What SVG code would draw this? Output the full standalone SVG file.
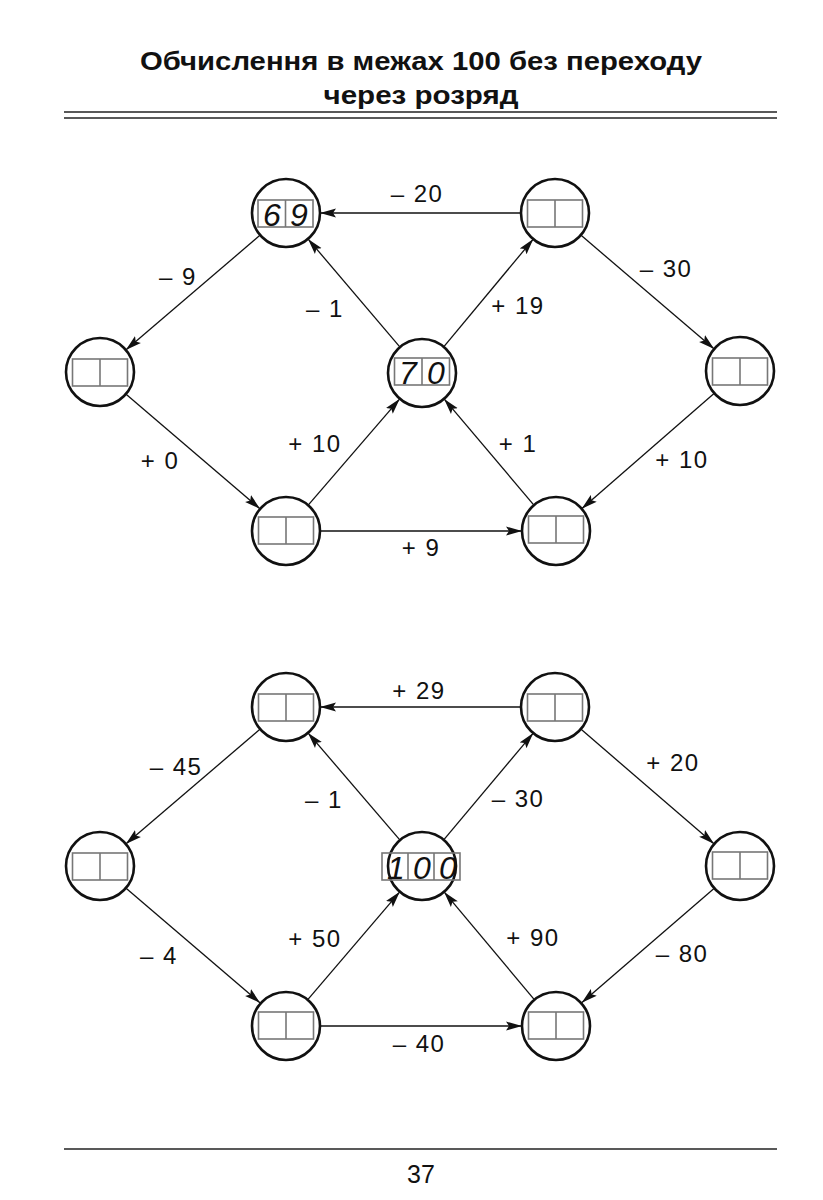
<svg xmlns="http://www.w3.org/2000/svg" width="823" height="1200" viewBox="0 0 823 1200">
<style>
.t{font-family:"Liberation Sans",Arial,sans-serif;font-weight:bold;font-size:25px;fill:#111;text-anchor:middle}
.lb{font-family:"Liberation Sans",Arial,sans-serif;font-size:24px;letter-spacing:1.5px;fill:#111;text-anchor:middle}
.pn{font-family:"Liberation Sans",Arial,sans-serif;font-size:25px;fill:#111;text-anchor:middle}
.hw{font-family:"Liberation Sans",Arial,sans-serif;font-style:italic;font-size:32px;fill:#111;text-anchor:middle}
.c{fill:#fff;stroke:#111;stroke-width:2.6}
.b{fill:none;stroke:#777;stroke-width:1.6}
.e{stroke:#111;stroke-width:1.3;fill:none;marker-end:url(#ah)}
.r{stroke:#222;stroke-width:1.4}
</style>
<defs>
<marker id="ah" markerUnits="userSpaceOnUse" viewBox="0 0 16 10" markerWidth="16" markerHeight="10" refX="16" refY="5" orient="auto">
<path d="M0,0.5 L16,5 L0,9.5 L3,5 z" fill="#111"/>
</marker>
</defs>
<rect width="823" height="1200" fill="#fff"/>
<g id="title">
<text class="t" x="421" y="70" textLength="562" lengthAdjust="spacingAndGlyphs">Обчислення в межах 100 без переходу</text>
<text class="t" x="421" y="104" textLength="195" lengthAdjust="spacingAndGlyphs">через розряд</text>
<line class="r" x1="64" y1="112" x2="777" y2="112"/>
<line class="r" x1="64" y1="118" x2="777" y2="118"/>
</g>
<g id="connectors">
<line class="e" x1="521" y1="213" x2="320" y2="213"/>
<line class="e" x1="260.2" y1="235.1" x2="125.8" y2="349.9"/>
<line class="e" x1="400" y1="347.1" x2="308" y2="238.9"/>
<line class="e" x1="443.7" y1="346.9" x2="533.3" y2="239.1"/>
<line class="e" x1="580.8" y1="235.1" x2="714.2" y2="348.9"/>
<line class="e" x1="125.8" y1="394.1" x2="260.2" y2="508.9"/>
<line class="e" x1="308.2" y1="505.2" x2="399.8" y2="398.8"/>
<line class="e" x1="533.9" y1="505.1" x2="444.1" y2="398.9"/>
<line class="e" x1="714.3" y1="393.2" x2="581.7" y2="508.8"/>
<line class="e" x1="320" y1="531" x2="522" y2="531"/>

<line class="e" x1="521" y1="707" x2="320" y2="707"/>
<line class="e" x1="260.2" y1="729.1" x2="125.8" y2="843.9"/>
<line class="e" x1="400" y1="840.1" x2="308" y2="732.9"/>
<line class="e" x1="443.7" y1="839.9" x2="533.3" y2="733.1"/>
<line class="e" x1="580.8" y1="729.1" x2="714.2" y2="843.9"/>
<line class="e" x1="125.8" y1="888.1" x2="260.2" y2="1002.9"/>
<line class="e" x1="308.2" y1="999.2" x2="399.8" y2="891.8"/>
<line class="e" x1="533.9" y1="999.1" x2="444.1" y2="891.9"/>
<line class="e" x1="714.3" y1="888.2" x2="581.7" y2="1002.8"/>
<line class="e" x1="320" y1="1026" x2="522" y2="1026"/>
</g>
<g id="labels">
<text class="lb" x="417" y="202">– 20</text>
<text class="lb" x="178" y="285">– 9</text>
<text class="lb" x="325" y="317">– 1</text>
<text class="lb" x="518" y="314">+ 19</text>
<text class="lb" x="666" y="277">– 30</text>
<text class="lb" x="160" y="469">+ 0</text>
<text class="lb" x="315" y="452">+ 10</text>
<text class="lb" x="518" y="452">+ 1</text>
<text class="lb" x="682" y="468">+ 10</text>
<text class="lb" x="421" y="556">+ 9</text>

<text class="lb" x="419" y="699">+ 29</text>
<text class="lb" x="176" y="775">– 45</text>
<text class="lb" x="324" y="808">– 1</text>
<text class="lb" x="518" y="807">– 30</text>
<text class="lb" x="673" y="771">+ 20</text>
<text class="lb" x="159" y="964">– 4</text>
<text class="lb" x="315" y="947">+ 50</text>
<text class="lb" x="533" y="946">+ 90</text>
<text class="lb" x="682" y="962">– 80</text>
<text class="lb" x="419" y="1052">– 40</text>
</g>
<!-- top diagram nodes -->
<g id="t-tl"><circle class="c" cx="286" cy="213" r="34"/><rect class="b" x="258" y="200" width="55" height="27"/><line class="b" x1="285.5" y1="200" x2="285.5" y2="227"/><text class="hw" x="272" y="226">6</text><text class="hw" x="299" y="226">9</text></g>
<g id="t-tr"><circle class="c" cx="555" cy="213" r="34"/><rect class="b" x="527.5" y="200" width="55" height="27"/><line class="b" x1="555" y1="200" x2="555" y2="227"/></g>
<g id="t-l"><circle class="c" cx="100" cy="372" r="34"/><rect class="b" x="72.5" y="359" width="55" height="27"/><line class="b" x1="100" y1="359" x2="100" y2="386"/></g>
<g id="t-c"><circle class="c" cx="422" cy="373" r="34"/><rect class="b" x="394.5" y="358" width="55" height="27"/><line class="b" x1="422" y1="358" x2="422" y2="385"/><text class="hw" x="408" y="384">7</text><text class="hw" x="436" y="384">0</text></g>
<g id="t-r"><circle class="c" cx="740" cy="371" r="34"/><rect class="b" x="712.5" y="358" width="55" height="27"/><line class="b" x1="740" y1="358" x2="740" y2="385"/></g>
<g id="t-bl"><circle class="c" cx="286" cy="531" r="34"/><rect class="b" x="258.5" y="517" width="55" height="27"/><line class="b" x1="286" y1="517" x2="286" y2="544"/></g>
<g id="t-br"><circle class="c" cx="556" cy="531" r="34"/><rect class="b" x="528.5" y="516" width="55" height="27"/><line class="b" x1="556" y1="516" x2="556" y2="543"/></g>
<!-- bottom diagram nodes -->
<g id="b-tl"><circle class="c" cx="286" cy="707" r="34"/><rect class="b" x="258.5" y="694" width="55" height="27"/><line class="b" x1="286" y1="694" x2="286" y2="721"/></g>
<g id="b-tr"><circle class="c" cx="555" cy="707" r="34"/><rect class="b" x="527.5" y="694" width="55" height="27"/><line class="b" x1="555" y1="694" x2="555" y2="721"/></g>
<g id="b-l"><circle class="c" cx="100" cy="866" r="34"/><rect class="b" x="72.5" y="853" width="55" height="27"/><line class="b" x1="100" y1="853" x2="100" y2="880"/></g>
<g id="b-c"><circle class="c" cx="422" cy="866" r="34"/><rect class="b" x="382" y="853" width="78" height="27"/><line class="b" x1="408" y1="853" x2="408" y2="880"/><line class="b" x1="434" y1="853" x2="434" y2="880"/><text class="hw" x="396" y="879">1</text><text class="hw" x="422" y="879">0</text><text class="hw" x="448" y="879">0</text></g>
<g id="b-r"><circle class="c" cx="740" cy="866" r="34"/><rect class="b" x="712.5" y="852" width="55" height="27"/><line class="b" x1="740" y1="852" x2="740" y2="879"/></g>
<g id="b-bl"><circle class="c" cx="286" cy="1026" r="34"/><rect class="b" x="258.5" y="1012" width="55" height="27"/><line class="b" x1="286" y1="1012" x2="286" y2="1039"/></g>
<g id="b-br"><circle class="c" cx="556" cy="1026" r="34"/><rect class="b" x="528.5" y="1012" width="55" height="27"/><line class="b" x1="556" y1="1012" x2="556" y2="1039"/></g>
<g id="footer">
<line class="r" x1="64" y1="1149" x2="777" y2="1149"/>
<text class="pn" x="421" y="1183">37</text>
</g>
</svg>
